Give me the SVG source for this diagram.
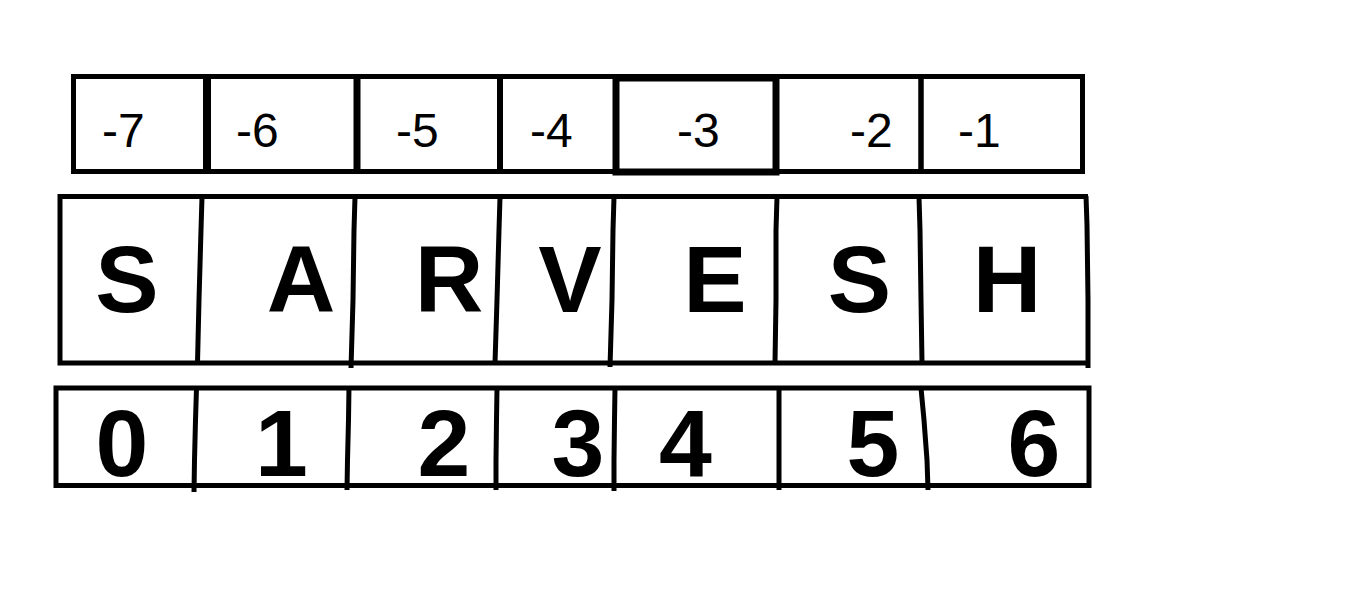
<svg xmlns="http://www.w3.org/2000/svg" width="1360" height="591" viewBox="0 0 1360 591">
<style>
.ln{fill:none;stroke:#000;stroke-width:5;stroke-linecap:butt;stroke-linejoin:miter}
.neg{font-family:"Liberation Sans",Arial,sans-serif;font-size:48px;fill:#000}
.big{font-family:"Liberation Sans",Arial,sans-serif;font-size:95px;font-weight:bold;fill:#000;text-anchor:middle}
</style>
<rect width="1360" height="591" fill="#fff"/>
<g id="grid">
  <!-- top row -->
  <rect class="ln" x="73.5" y="76.5" width="1009" height="95"/>
  <line class="ln" x1="207" y1="76" x2="207" y2="172" style="stroke-width:8"/>
  <line class="ln" x1="357" y1="76" x2="357" y2="172" style="stroke-width:7"/>
  <line class="ln" x1="500" y1="76" x2="500" y2="172" style="stroke-width:6"/>
  <rect class="ln" x="616" y="78" width="160" height="94" style="stroke-width:7"/>
  <line class="ln" x1="921" y1="76" x2="921" y2="172" style="stroke-width:5.5"/>
  <!-- middle row -->
  <path class="ln" d="M57.5 196.5 H1088 M60 196.5 V363 M57.5 363 H1090"/>
  <polyline class="ln" points="1086,196 1087,225 1088,300 1088,368"/>
  <polyline class="ln" points="202,197 201,230 199,300 197.5,363"/>
  <polyline class="ln" points="355,197 354,230 353,300 351,368"/>
  <polyline class="ln" points="500,197 499,230 497,300 495,363"/>
  <polyline class="ln" points="614,197 613,230 612,300 610,367"/>
  <polyline class="ln" points="777,197 776,230 776,300 775,363"/>
  <polyline class="ln" points="919,197 920,230 921,300 922,363"/>
  <!-- bottom row -->
  <rect class="ln" x="56" y="388" width="1033" height="97.5"/>
  <polyline class="ln" points="196.5,388 195.5,420 194.5,460 194,492"/>
  <polyline class="ln" points="349,386 348.5,420 347.5,460 347,490"/>
  <polyline class="ln" points="497,388 496.5,420 496,460 496,490"/>
  <polyline class="ln" points="615,388 614.5,420 614,460 614,491"/>
  <polyline class="ln" points="779,388 779,420 779,460 779,490"/>
  <polyline class="ln" points="921,388 924,420 927,460 928,490"/>
</g>
<g id="cell0"><text class="neg" x="102" y="147">-7</text><text class="big" x="127" y="312">S</text><text class="big" x="122" y="476">0</text></g>
<g id="cell1"><text class="neg" x="236" y="147">-6</text><text class="big" x="301" y="312">A</text><text class="big" x="281.5" y="476">1</text></g>
<g id="cell2"><text class="neg" x="396" y="147">-5</text><text class="big" x="449" y="312">R</text><text class="big" x="444" y="476">2</text></g>
<g id="cell3"><text class="neg" x="530" y="147">-4</text><text class="big" x="570" y="312">V</text><text class="big" x="578" y="476">3</text></g>
<g id="cell4"><text class="neg" x="677" y="147">-3</text><text class="big" x="715" y="312">E</text><text class="big" x="685.5" y="476">4</text></g>
<g id="cell5"><text class="neg" x="850" y="147">-2</text><text class="big" x="859.5" y="312">S</text><text class="big" x="873" y="476">5</text></g>
<g id="cell6"><text class="neg" x="958" y="147">-1</text><text class="big" x="1007" y="312">H</text><text class="big" x="1034" y="476">6</text></g>
</svg>
